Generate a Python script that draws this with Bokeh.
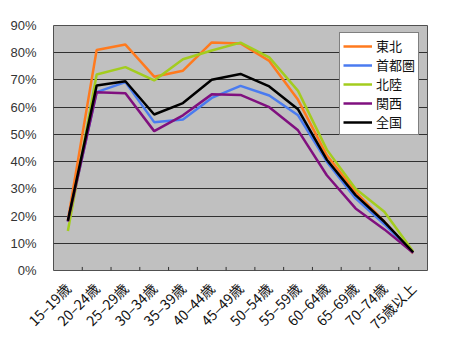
from bokeh.plotting import figure
from bokeh.models import FactorRange, Range1d, FixedTicker, PrintfTickFormatter, Legend, LegendItem
from bokeh.embed import file_html
from bokeh.resources import INLINE

categories = ["15–19歳", "20–24歳", "25–29歳", "30–34歳", "35–39歳", "40–44歳", "45–49歳",
              "50–54歳", "55–59歳", "60–64歳", "65–69歳", "70–74歳", "75歳以上"]
tohoku   = [18.5, 81.0, 83.0, 71.2, 73.4, 83.8, 83.4, 77.0, 62.7, 42.3, 28.9, 18.0, 6.3]
shutoken = [18.0, 65.5, 69.2, 54.5, 55.5, 63.4, 67.8, 64.3, 57.0, 40.0, 26.5, 17.0, 6.5]
hokuriku = [14.5, 72.0, 74.7, 69.8, 77.6, 80.8, 83.7, 78.3, 66.0, 44.4, 30.0, 21.6, 7.0]
kansai   = [18.0, 65.5, 65.1, 51.2, 57.0, 64.7, 64.5, 60.0, 51.5, 35.0, 22.8, 15.1, 6.5]
zenkoku  = [18.3, 68.0, 69.5, 57.3, 61.5, 70.1, 72.2, 67.6, 59.2, 40.7, 27.7, 17.9, 6.7]
y_ticks = [0, 10, 20, 30, 40, 50, 60, 70, 80, 90]

series = [
    ("東北", tohoku, "#FF7A1E"),
    ("首都圏", shutoken, "#4A7BF0"),
    ("北陸", hokuriku, "#A3CC1E"),
    ("関西", kansai, "#80107F"),
    ("全国", zenkoku, "#000000"),
]

p = figure(width=450, height=354, output_backend="svg", toolbar_location=None,
           x_range=FactorRange(*categories, range_padding=0),
           y_range=Range1d(0, 90),
           min_border_left=53, min_border_right=23, min_border_top=25, min_border_bottom=84,
           background_fill_color="#C0C0C0", border_fill_color="white")
p.outline_line_color = "#505050"
p.outline_line_width = 1

p.xgrid.grid_line_color = None
p.ygrid.ticker = FixedTicker(ticks=y_ticks)
p.ygrid.grid_line_color = "#303030"
p.ygrid.grid_line_width = 1

p.yaxis.ticker = FixedTicker(ticks=y_ticks)
p.yaxis.formatter = PrintfTickFormatter(format="%d%%")
p.yaxis.axis_line_color = None
p.yaxis.major_tick_line_color = None
p.yaxis.minor_tick_line_color = None
p.yaxis.major_label_text_font = "Liberation Sans"
p.yaxis.major_label_text_font_size = "13px"
p.yaxis.major_label_text_color = "#333333"
p.yaxis.major_label_standoff = 11

p.xaxis.axis_line_color = None
p.xaxis.major_tick_line_color = None
p.xaxis.major_label_orientation = 0.785398
p.xaxis.major_label_text_font = "Noto Sans CJK JP"
p.xaxis.major_label_text_font_size = "14px"
p.xaxis.major_label_text_color = "#111111"
p.xaxis.major_label_standoff = 9

# category boundary tick marks (inside the frame)
bx = [(c, 0.5) for c in categories[:-1]]
p.segment(x0=bx, x1=bx, y0=[0] * len(bx), y1=[1.3] * len(bx), line_color="#303030", line_width=1)

items = []
for name, vals, col in series:
    r = p.line(categories, vals, line_color=col, line_width=2.5)
    items.append(LegendItem(label=name, renderers=[r]))

legend = Legend(items=items, location=(286, 135))
legend.label_text_font = "Noto Sans CJK JP"
legend.label_text_font_size = "13px"
legend.label_text_color = "#111111"
legend.glyph_width = 29
legend.glyph_height = 18
legend.label_height = 18
legend.label_standoff = 4
legend.spacing = 0
legend.padding = 3
legend.margin = 0
legend.border_line_color = "#000000"
legend.border_line_width = 1
legend.background_fill_color = "white"
legend.background_fill_alpha = 1
p.add_layout(legend)

open("out.html", "w").write(file_html(p, INLINE))
